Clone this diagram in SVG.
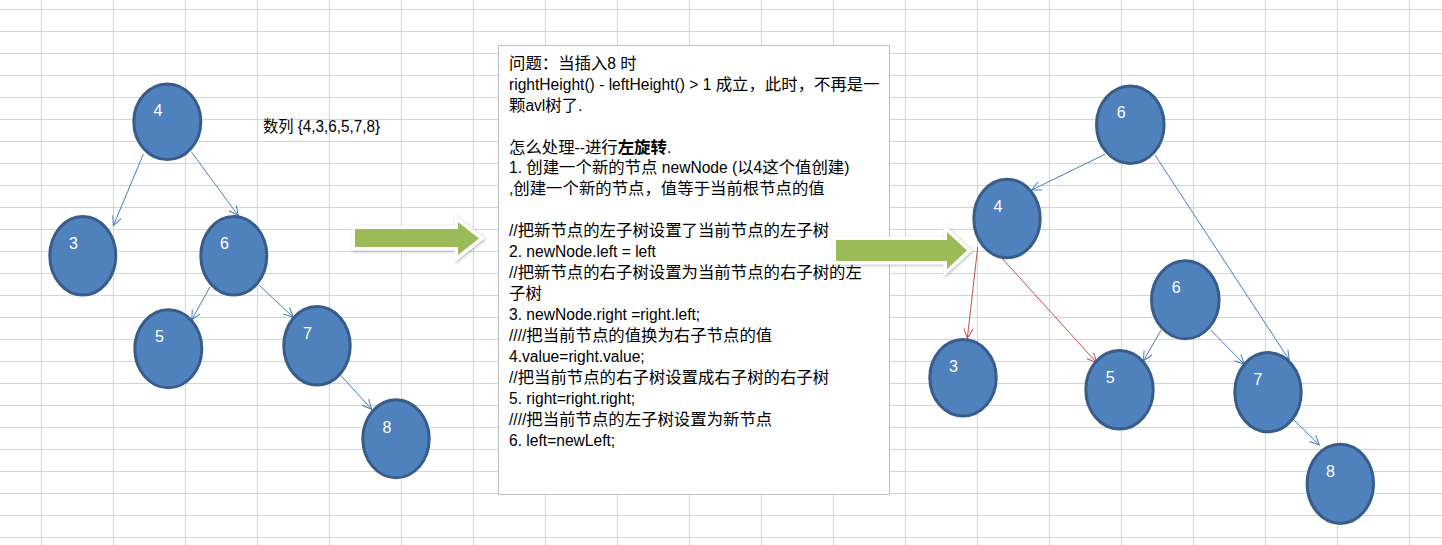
<svg xmlns="http://www.w3.org/2000/svg" width="1442" height="545" viewBox="0 0 1442 545">
<style>
.grid{stroke:#d4d4d4;stroke-width:1;fill:none}
.node ellipse{fill:#4f81bd;stroke:#385d8a;stroke-width:3}
.node text{fill:#ffffff;font-family:"Liberation Sans","Noto Sans",sans-serif;font-size:16px;text-anchor:middle}
.edge{fill:none;stroke-width:1}
.blue{stroke:#4a7ebb}
.red{stroke:#c0504d}
.box{fill:#ffffff;stroke:#bfbfbf;stroke-width:1}
.txt{font-family:"Liberation Sans","Noto Sans CJK SC",sans-serif;font-size:15.6px;fill:#000000}
.c{font-size:16.4px}
.garrow{fill:#9bbb59;stroke:#ffffff;stroke-width:7;stroke-linejoin:miter;paint-order:stroke;filter:url(#sh)}
</style>
<defs>
<marker id="mb" markerUnits="userSpaceOnUse" markerWidth="14" markerHeight="12" refX="11" refY="6" orient="auto" overflow="visible">
<path d="M1.5,1.5 L11,6 L1.5,10.5" fill="none" stroke="#4a7ebb" stroke-width="1"/>
</marker>
<marker id="mr" markerUnits="userSpaceOnUse" markerWidth="14" markerHeight="12" refX="11" refY="6" orient="auto" overflow="visible">
<path d="M1.5,1.5 L11,6 L1.5,10.5" fill="none" stroke="#c0504d" stroke-width="1"/>
</marker>
<filter id="sh" x="-20%" y="-50%" width="140%" height="200%">
<feDropShadow dx="1" dy="1" stdDeviation="1.5" flood-color="#7f7f7f" flood-opacity="0.55"/>
</filter>
</defs>
<rect width="1442" height="545" fill="#ffffff"/>
<path class="grid" d="M41.5,0V545M113.5,0V545M185.5,0V545M257.5,0V545M329.5,0V545M401.5,0V545M473.5,0V545M545.5,0V545M617.5,0V545M689.5,0V545M761.5,0V545M833.5,0V545M905.5,0V545M977.5,0V545M1049.5,0V545M1121.5,0V545M1193.5,0V545M1265.5,0V545M1337.5,0V545M1409.5,0V545M0,9.5H1442M0,31.5H1442M0,53.5H1442M0,75.5H1442M0,97.5H1442M0,119.5H1442M0,141.5H1442M0,163.5H1442M0,185.5H1442M0,207.5H1442M0,229.5H1442M0,251.5H1442M0,273.5H1442M0,295.5H1442M0,317.5H1442M0,339.5H1442M0,361.5H1442M0,383.5H1442M0,405.5H1442M0,427.5H1442M0,449.5H1442M0,471.5H1442M0,493.5H1442M0,515.5H1442M0,537.5H1442"/>

<text class="txt" x="263" y="131.5" textLength="117" lengthAdjust="spacingAndGlyphs">数列 {4,3,6,5,7,8}</text>

<g id="connectors">
<line class="edge blue" x1="143.3" y1="154.3" x2="113.3" y2="225.7" marker-end="url(#mb)"/>
<line class="edge blue" x1="191.7" y1="152.3" x2="238.3" y2="215.7" marker-end="url(#mb)"/>
<line class="edge blue" x1="210" y1="286.7" x2="191.7" y2="320" marker-end="url(#mb)"/>
<line class="edge blue" x1="259" y1="285" x2="293.3" y2="317.3" marker-end="url(#mb)"/>
<line class="edge blue" x1="341" y1="375.7" x2="371.7" y2="409.3" marker-end="url(#mb)"/>
<line class="edge blue" x1="1105" y1="154.3" x2="1031.7" y2="190" marker-end="url(#mb)"/>
<line class="edge blue" x1="1155" y1="155" x2="1289.3" y2="360" marker-end="url(#mb)"/>
<line class="edge red" x1="977.7" y1="247.3" x2="967.3" y2="338.3" marker-end="url(#mr)"/>
<line class="edge red" x1="1002.7" y1="259" x2="1096.7" y2="362.7" marker-end="url(#mr)"/>
<line class="edge blue" x1="1161" y1="330.3" x2="1143.3" y2="361" marker-end="url(#mb)"/>
<line class="edge blue" x1="1210.7" y1="330" x2="1244.3" y2="364.3" marker-end="url(#mb)"/>
<line class="edge blue" x1="1293.3" y1="419.3" x2="1319.3" y2="445" marker-end="url(#mb)"/>
</g>

<g id="L4" class="node"><ellipse cx="167.3" cy="121.7" rx="33.5" ry="37.8"/><text x="158" y="116">4</text></g>
<g id="L3" class="node"><ellipse cx="82.8" cy="255.8" rx="33" ry="39.3"/><text x="73.5" y="249.3">3</text></g>
<g id="L6" class="node"><ellipse cx="233.8" cy="255.8" rx="33" ry="39.3"/><text x="224.5" y="249.3">6</text></g>
<g id="L5" class="node"><ellipse cx="168.3" cy="348.8" rx="33.5" ry="39"/><text x="159.5" y="341.7">5</text></g>
<g id="L7" class="node"><ellipse cx="317" cy="345.8" rx="33.2" ry="39.3"/><text x="307.5" y="339.2">7</text></g>
<g id="L8" class="node"><ellipse cx="396" cy="438.8" rx="33.2" ry="39"/><text x="387" y="432.7">8</text></g>

<g id="R6" class="node"><ellipse cx="1130.3" cy="124.7" rx="33.8" ry="38.8"/><text x="1121.3" y="118.3">6</text></g>
<g id="R4" class="node"><ellipse cx="1007" cy="218.5" rx="33.2" ry="39.3"/><text x="998" y="212.3">4</text></g>
<g id="R6b" class="node"><ellipse cx="1185.3" cy="299.8" rx="33.8" ry="39"/><text x="1176.3" y="293.3">6</text></g>
<g id="R3" class="node"><ellipse cx="963" cy="377.7" rx="33.2" ry="38.2"/><text x="953.5" y="372.3">3</text></g>
<g id="R5" class="node"><ellipse cx="1119.5" cy="389.8" rx="33.7" ry="39.3"/><text x="1110.3" y="383.3">5</text></g>
<g id="R7" class="node"><ellipse cx="1268" cy="392.2" rx="33.2" ry="39.6"/><text x="1258" y="385">7</text></g>
<g id="R8" class="node"><ellipse cx="1340.3" cy="483.8" rx="33.2" ry="39.6"/><text x="1330.5" y="477.3">8</text></g>

<g id="textbox">
<rect class="box" x="498.5" y="45.5" width="391" height="449"/>
<text class="txt">
<tspan x="509" y="68.7"><tspan class="c">问题：当插入</tspan>8 <tspan class="c">时</tspan></tspan>
<tspan x="509" y="89.6">rightHeight() - leftHeight() &gt; 1 <tspan class="c">成立，此时，不再是一</tspan></tspan>
<tspan x="509" y="110.6"><tspan class="c">颗</tspan>avl<tspan class="c">树了</tspan>.</tspan>
<tspan x="509" y="152.5"><tspan class="c">怎么处理</tspan>--<tspan class="c">进行</tspan><tspan class="c" font-weight="bold">左旋转</tspan>.</tspan>
<tspan x="509" y="173.4">1. <tspan class="c">创建一个新的节点</tspan> newNode (<tspan class="c">以</tspan>4<tspan class="c">这个值创建</tspan>)</tspan>
<tspan x="509" y="194.3">,<tspan class="c">创建一个新的节点，值等于当前根节点的值</tspan></tspan>
<tspan x="509" y="236.2">//<tspan class="c">把新节点的左子树设置了当前节点的左子树</tspan></tspan>
<tspan x="509" y="257.2">2. newNode.left = left</tspan>
<tspan x="509" y="278.1">//<tspan class="c">把新节点的右子树设置为当前节点的右子树的左</tspan></tspan>
<tspan x="509" y="299.1" class="c">子树</tspan>
<tspan x="509" y="320">3. newNode.right =right.left;</tspan>
<tspan x="509" y="340.9">////<tspan class="c">把当前节点的值换为右子节点的值</tspan></tspan>
<tspan x="509" y="361.9">4.value=right.value;</tspan>
<tspan x="509" y="382.8">//<tspan class="c">把当前节点的右子树设置成右子树的右子树</tspan></tspan>
<tspan x="509" y="403.8">5. right=right.right;</tspan>
<tspan x="509" y="424.7">////<tspan class="c">把当前节点的左子树设置为新节点</tspan></tspan>
<tspan x="509" y="445.6">6. left=newLeft;</tspan>
</text>
</g>

<g id="arrow-left"><path class="garrow" d="M355,229 L458,229 L458,222 L479,238.5 L458,255 L458,247 L355,247 Z"/></g>
<g id="arrow-right"><path class="garrow" d="M836,240 L947,240 L947,232 L967,250.5 L947,269 L947,261 L836,261 Z"/></g>
</svg>
